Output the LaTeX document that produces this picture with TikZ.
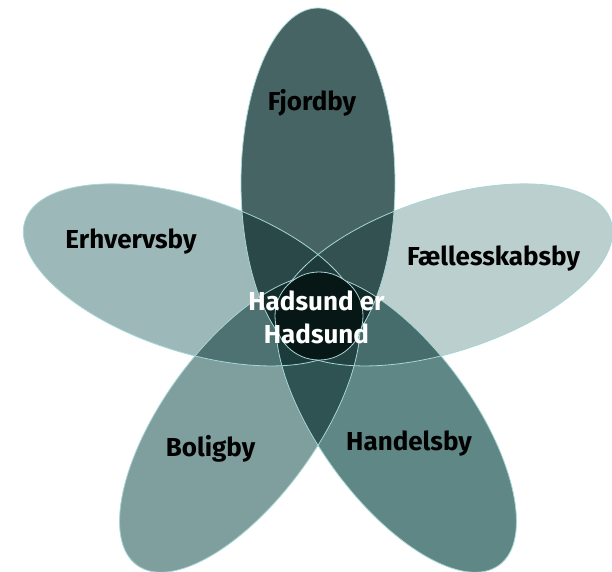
\documentclass[tikz,border=0pt]{standalone}
\usepackage{fontspec}
\setmainfont{Fira Sans}
\usepackage{xcolor}
\usepackage{tikz}
\usetikzlibrary{positioning}
\definecolor{fjord}{HTML}{466464}
\definecolor{faelles}{HTML}{BCCFCF}
\definecolor{handel}{HTML}{5F8786}
\definecolor{bolig}{HTML}{7F9E9E}
\definecolor{erhverv}{HTML}{9DB8B8}
\definecolor{core}{HTML}{061716}
\definecolor{rimc}{HTML}{A8D6D6}

\begin{document}
\begin{tikzpicture}[x=1pt, y=1pt,
  every node/.style={font=\bfseries\fontsize{26}{33}\selectfont, inner sep=0pt},
  lbl/.style={anchor=base, text=black},
  mid/.style={align=center, text=white},
  rim/.style={draw=rimc, line width=0.8pt}]
  \useasboundingbox (-318,-255) rectangle (294,316);
  % petals, overlaps darken
  \begin{scope}[blend group=multiply]
    \foreach \ang/\col in {90/fjord, 18/faelles, -54/handel, -126/bolig, 162/erhverv}
      \fill[\col, shift={(\ang:133)}, rotate=\ang] (0,0) ellipse [x radius=175, y radius=77];
  \end{scope}
  \foreach \ang in {90, 18, -54, -126, 162}
    \draw[rim, shift={(\ang:133)}, rotate=\ang] (0,0) ellipse [x radius=175, y radius=77];
  \draw[rim, fill=core] (1,0) circle [radius=44];
  \node[lbl] (fjordby) at (-6,206) {Fjordby};
  \node[lbl] (faellesskab) at (175.5,51) {Fællesskabsby};
  \node[lbl] (handelsby) at (91,-134) {Handelsby};
  \node[lbl] (boligby) at (-107.5,-140) {Boligby};
  \node[lbl] (erhvervsby) at (-187,68) {Erhvervsby};
  \node[mid] (hadsund) at (-1.5,-1) {Hadsund er\\Hadsund};
\end{tikzpicture}
\end{document}
